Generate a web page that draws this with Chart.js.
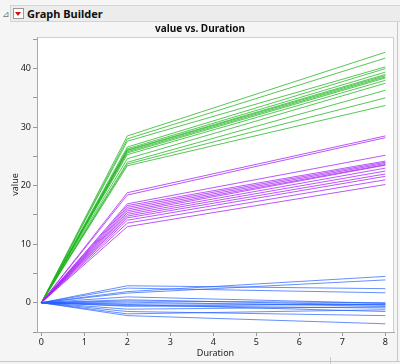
<!DOCTYPE html>
<html>
<head>
<meta charset="utf-8">
<script src="https://cdn.jsdelivr.net/npm/chart.js@4.4.0/dist/chart.umd.min.js"></script>
<style>
  html, body { margin: 0; padding: 0; background: #f5f5f5; }
  body { width: 400px; height: 364px; position: relative; overflow: hidden; font-family: "Noto Sans", sans-serif; }
  #hdr { position: absolute; left: 10px; top: 5px; width: 400px; height: 15px; background: #ececec; border: 1px solid #d4d4d4; border-right: none; }
  #hdr .btn { position: absolute; left: 2px; top: 2px; width: 9px; height: 9px; background: #fff; border: 1px solid #999; }
  #hdr .btn:after { content: ""; position: absolute; left: 1px; top: 3px; border-left: 3.5px solid transparent; border-right: 3.5px solid transparent; border-top: 4px solid #d01010; }
  #hdr .txt { position: absolute; left: 16px; top: 0px; font-size: 11px; font-weight: bold; color: #111; line-height: 15px; }
  #tri { position: absolute; left: 2px; top: 7px; font-size: 9px; color: #777; }
  #frameR { position: absolute; left: 397px; top: 22px; width: 1px; height: 340px; background: #c8c8c8; }
  #frameB { position: absolute; left: 0; top: 361px; width: 400px; height: 1px; background: #c8c8c8; }
  #div2 { position: absolute; left: 330px; top: 357px; width: 1px; height: 7px; background: #c8c8c8; }
  canvas { position: absolute; left: 0; top: 0; }
</style>
</head>
<body>
<div id="tri">&#8895;</div>
<div id="hdr"><div class="btn"></div><div class="txt">Graph Builder</div></div>
<div id="frameR"></div>
<div id="frameB"></div>
<div id="div2"></div>
<canvas id="myChart" width="400" height="364"></canvas>
<script>
        // values: value at Duration 0, 2 and 8
        const durations = [0, 2, 8];

        const greenAt2 = [28.5, 28.0, 27.6, 26.6, 26.3, 26.1, 26.0, 25.8, 25.6, 25.3, 24.6, 24.0, 23.7, 23.4];
        const greenAt8 = [42.8, 41.8, 40.3, 40.0, 39.4, 39.0, 38.8, 38.6, 38.4, 38.0, 37.5, 36.3, 35.0, 33.7];

        const purpleAt2 = [18.8, 18.4, 16.9, 16.6, 16.3, 16.0, 15.7, 15.4, 15.1, 14.8, 14.5, 14.1, 13.6, 13.0];
        const purpleAt8 = [28.5, 28.2, 25.2, 24.2, 24.0, 23.8, 23.6, 23.5, 23.0, 22.5, 22.0, 21.6, 21.0, 20.2];

        const blueAt2 = [2.9, 2.5, 1.9, 1.65, 1.0, 0.5, 0.1, -0.2, -0.3, -0.6, -1.1, -1.5, -1.9, -2.2, 0.3, -0.5];
        const blueAt8 = [2.4, 1.7, 4.5, 3.9, -0.1, -0.4, -0.6, -0.3, -1.5, -0.2, -0.7, -2.2, -1.2, -3.6, 0.0, -0.9];

        const xTicks = [0, 1, 2, 3, 4, 5, 6, 7, 8];
        const yTicks = [0, 10, 20, 30, 40];

        const GREEN = 'rgba(30, 180, 30, 0.75)';
        const PURPLE = 'rgba(165, 30, 245, 0.75)';
        const BLUE = 'rgba(35, 95, 255, 0.7)';

        function makeLines(at2, at8, color) {
            return at2.map((v, i) => ({
                data: [{x: durations[0], y: 0}, {x: durations[1], y: v}, {x: durations[2], y: at8[i]}],
                borderColor: color,
                borderWidth: 1,
                pointRadius: 0,
                tension: 0
            }));
        }

        const datasets = [].concat(
            makeLines(blueAt2, blueAt8, BLUE),
            makeLines(purpleAt2, purpleAt8, PURPLE),
            makeLines(greenAt2, greenAt8, GREEN)
        );

        // white plot area with a light frame
        const plotBox = {
            id: 'plotBox',
            beforeDraw(chart) {
                const a = chart.chartArea, c = chart.ctx;
                c.save();
                c.fillStyle = '#ffffff';
                c.fillRect(a.left, a.top, a.right - a.left, a.bottom - a.top);
                c.strokeStyle = '#d0d0d0';
                c.lineWidth = 1;
                c.strokeRect(a.left + 0.5, a.top + 0.5, a.right - a.left - 1, a.bottom - a.top);
                c.restore();
            }
        };

        const ctx = document.getElementById('myChart').getContext('2d');
        const tickFont = { family: 'Noto Sans', size: 9 };

        const chart = new Chart(ctx, {
            type: 'line',
            data: { datasets: datasets },
            plugins: [plotBox],
            options: {
                responsive: false,
                animation: false,
                devicePixelRatio: 1,
                layout: { padding: { left: 6, right: 6, top: 0, bottom: 0 } },
                plugins: {
                    legend: { display: false },
                    tooltip: { enabled: false },
                    title: {
                        display: true,
                        text: 'value vs. Duration',
                        color: '#111',
                        font: { family: 'Noto Sans', size: 10, weight: 'bold' },
                        padding: { top: 23, bottom: 2 }
                    }
                },
                scales: {
                    x: {
                        type: 'linear',
                        min: -0.1,
                        max: 8.2,
                        afterFit: s => { s.height = 32; },
                        afterBuildTicks: s => { s.ticks = xTicks.map(v => ({ value: v })); },
                        ticks: { color: '#222', font: tickFont, padding: 1, maxRotation: 0 },
                        grid: { drawOnChartArea: false, tickLength: 4, color: '#999' },
                        border: { display: true, color: '#a8a8a8' },
                        title: { display: true, text: 'Duration', color: '#222', font: tickFont, padding: { top: 0, bottom: 5 } }
                    },
                    y: {
                        min: -5,
                        max: 45.4,
                        afterFit: s => { s.width = 31; },
                        afterBuildTicks: s => {
                            const t = [];
                            for (let v = -5; v <= 45; v += 5) t.push({ value: v });
                            s.ticks = t;
                        },
                        ticks: {
                            color: '#222', font: tickFont, padding: 2,
                            callback: v => yTicks.includes(v) ? v : ''
                        },
                        grid: {
                            drawOnChartArea: false, tickLength: 4,
                            color: '#999'
                        },
                        border: { display: true, color: '#a8a8a8' },
                        title: { display: true, text: 'value', color: '#222', font: tickFont, padding: { top: 4, bottom: 0 } }
                    }
                }
            }
        });
</script>
</body>
</html>
